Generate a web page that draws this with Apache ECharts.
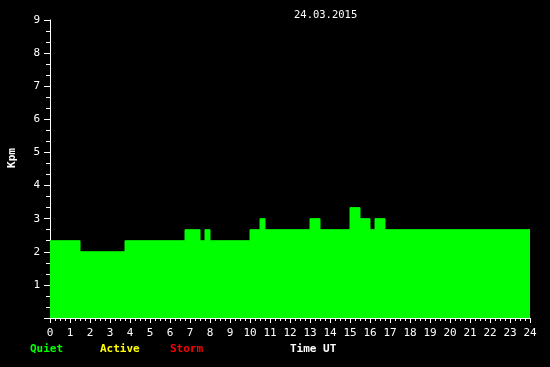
<!DOCTYPE html>
<html>
<head>
<meta charset="utf-8">
<script src="https://cdn.jsdelivr.net/npm/echarts@6/dist/echarts.min.js"></script>
<style>
html,body{margin:0;padding:0;background:#000;}
#chart{width:550px;height:367px;}
</style>
</head>
<body>
<div id="chart"></div>
<script>
// Step start times (hours UT) and Kpm values holding from each start time
var stepTimes = [0, 1.5, 3.75, 6.75, 7.5, 7.75, 8.0, 10.0, 10.5, 10.75, 13.0, 13.5, 15.0, 15.5, 16.0, 16.25, 16.75, 24];
var kpmValues = [2.333, 2.0, 2.333, 2.667, 2.333, 2.667, 2.333, 2.667, 3.0, 2.667, 3.0, 2.667, 3.333, 3.0, 2.667, 3.0, 2.667, 2.667];
var dateTitle = '24.03.2015';
var legendLabels = ['Quiet', 'Active', 'Storm'];
var legendColors = ['#00ff00', '#ffff00', '#ff0000'];

var mono = 'DejaVu Sans Mono';
var seriesData = stepTimes.map(function (t, i) { return [t, kpmValues[i]]; });

var chart = echarts.init(document.getElementById('chart'));
chart.setOption({
  backgroundColor: '#000000',
  animation: false,
  title: {
    text: dateTitle,
    left: 289, top: 5,
    textStyle: { color: '#ffffff', fontFamily: mono, fontSize: 10.5, fontWeight: 'normal' }
  },
  grid: { left: 50, right: 20, top: 20, bottom: 49 },
  xAxis: {
    type: 'value', min: 0, max: 24, interval: 1,
    axisLine: { show: true, lineStyle: { color: '#ffffff', width: 1 } },
    axisTick: { show: true, length: 5, lineStyle: { color: '#ffffff' } },
    minorTick: { show: true, splitNumber: 4, length: 3, lineStyle: { color: '#ffffff' } },
    splitLine: { show: false },
    axisLabel: { color: '#ffffff', fontFamily: mono, fontSize: 11, margin: 10, showMinLabel: true, showMaxLabel: true }
  },
  yAxis: {
    type: 'value', min: 0, max: 9, interval: 1,
    axisLine: { show: true, lineStyle: { color: '#ffffff', width: 1 } },
    axisTick: { show: true, length: 6, lineStyle: { color: '#ffffff' } },
    minorTick: { show: true, splitNumber: 3, length: 4, lineStyle: { color: '#ffffff' } },
    splitLine: { show: false },
    axisLabel: {
      color: '#ffffff', fontFamily: mono, fontSize: 11, margin: 10,
      formatter: function (v) { return v === 0 ? '' : String(v); }
    }
  },
  graphic: [
    { type: 'text', x: 12.5, y: 158, rotation: Math.PI / 2,
      style: { text: 'Kpm', fill: '#ffffff', font: 'bold 11px "DejaVu Sans Mono"', align: 'center', verticalAlign: 'middle' } },
    { type: 'text', x: 30, y: 349,
      style: { text: legendLabels[0], fill: legendColors[0], font: 'bold 11px "DejaVu Sans Mono"', verticalAlign: 'middle' } },
    { type: 'text', x: 100, y: 349,
      style: { text: legendLabels[1], fill: legendColors[1], font: 'bold 11px "DejaVu Sans Mono"', verticalAlign: 'middle' } },
    { type: 'text', x: 170, y: 349,
      style: { text: legendLabels[2], fill: legendColors[2], font: 'bold 11px "DejaVu Sans Mono"', verticalAlign: 'middle' } },
    { type: 'text', x: 290, y: 349,
      style: { text: 'Time UT', fill: '#ffffff', font: 'bold 11px "DejaVu Sans Mono"', verticalAlign: 'middle' } }
  ],
  series: [{
    type: 'line',
    step: 'end',
    data: seriesData,
    showSymbol: false,
    lineStyle: { color: '#00ff00', width: 1 },
    itemStyle: { color: '#00ff00' },
    areaStyle: { color: '#00ff00', opacity: 1 }
  }]
});
</script>
</body>
</html>
